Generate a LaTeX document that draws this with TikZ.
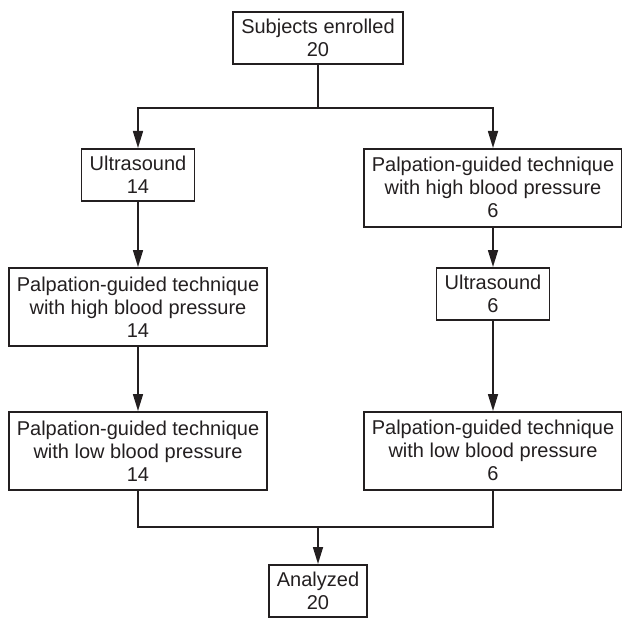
\documentclass[tikz,border=0pt]{standalone}
\usepackage{fontspec}
\setmainfont{Liberation Sans}
\usetikzlibrary{arrows.meta,positioning}
\definecolor{ink}{HTML}{231F20}
\tikzset{
  stepbox/.style={rectangle,draw=ink,line width=1.6pt,align=center,text=ink,inner xsep=8pt,inner ysep=4pt,minimum height=52pt,font=\fontsize{20}{23}\selectfont},
  tallbox/.style={stepbox,minimum height=78pt},
  link/.style={line width=1.6pt,draw=ink},
  arrow/.style={-{Triangle[length=17pt,width=10pt]},line width=1.6pt,draw=ink}
}
\begin{document}
\begin{tikzpicture}[x=1pt,y=-1pt]
  \useasboundingbox (0,0) rectangle (622,618);
  \node[stepbox, anchor=north] (enrolled) at (318,11) {Subjects enrolled\\20};

  \node[stepbox, anchor=north] (us14) at (138,148) {Ultrasound\\14};
  \node[tallbox, anchor=north] (high14) at (138,267) {Palpation-guided technique\\with high blood pressure\\14};
  \node[tallbox, anchor=north] (low14) at (138,411) {Palpation-guided technique\\with low blood pressure\\14};

  \node[tallbox, anchor=north] (high6) at (493,148) {Palpation-guided technique\\with high blood pressure\\6};
  \node[stepbox, anchor=north] (us6) at (493,267) {Ultrasound\\6};
  \node[tallbox, anchor=north] (low6) at (493,411) {Palpation-guided technique\\with low blood pressure\\6};

  \node[stepbox, anchor=north] (analyzed) at (318,564) {Analyzed\\20};

  \coordinate (split) at (318,108);
  \coordinate (merge) at (318,527);

  \draw[link] (enrolled) -- (split);
  \draw[arrow] (split) -| (us14);
  \draw[arrow] (split) -| (high6);
  \draw[arrow] (us14) -- (high14);
  \draw[arrow] (high14) -- (low14);
  \draw[arrow] (high6) -- (us6);
  \draw[arrow] (us6) -- (low6);
  \draw[link] (low14) |- (merge);
  \draw[link] (low6) |- (merge);
  \draw[arrow] (merge) -- (analyzed);
\end{tikzpicture}
\end{document}
